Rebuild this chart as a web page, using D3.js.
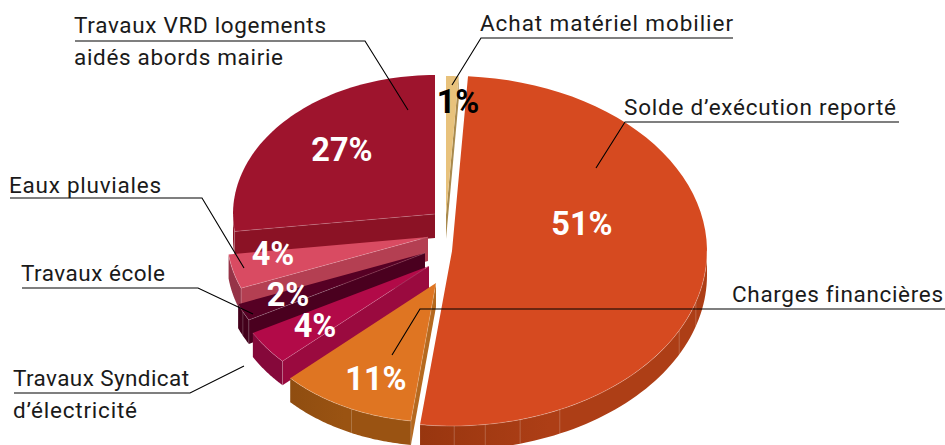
<!DOCTYPE html>
<html>
<head>
<meta charset="utf-8">
<script src="https://cdn.jsdelivr.net/npm/d3@7"></script>
<style>
    html, body { margin: 0; padding: 0; background: #fff; }
    text { font-family: Roboto, sans-serif; font-variant-ligatures: none; }
</style>
</head>
<body>
<div id="chart"></div>
<script>
// values, clockwise from 12 o'clock
var names = ["Achat matériel mobilier", "Solde d’exécution reporté", "Charges financières",
    "Travaux Syndicat d’électricité", "Travaux école", "Eaux pluviales", "Travaux VRD logements aidés abords mairie"];
var shares = [1, 51, 11, 4, 2, 4, 27];

var width = 945, height = 445;

// where each exploded slice sits on the page (same order as names)
var apexX = [446, 452, 436, 429, 425, 428, 435];
var apexY = [215, 251, 283, 266, 253, 237, 214];
var radiusX = [202, 255, 200, 201, 201, 201, 202];
var radiusY = [139, 175, 139, 139, 139, 139, 139];
var depth = 24;

var topColors = ["#e8c27c", "#d64a20", "#df7522", "#b20a48", "#560024", "#d94b62", "#9e142d"];
var cutColors = ["#a98a4e", "#ab3c15", "#b5691f", "#9a0a3f", "#4a001f", "#b43f52", "#8b1225"];
var wallStart = ["#a98a4e", "#98360f", "#8f4d10", "#85083a", "#43001b", "#963347", "#8b1225"];
var wallEnd = ["#a98a4e", "#ad3e16", "#9a5312", "#85083a", "#43001b", "#963347", "#8b1225"];

// thin facet lines on the outer walls, degrees
var facets = [[], [107, 117, 155, 164.5, 172.5, 179.5], [205], [], [245], [], []];

// back to front
var drawOrder = [6, 0, 5, 4, 3, 2, 1];

var percentX = [458, 582, 376, 315, 288, 273, 342];
var percentY = [113, 235, 390, 337, 306, 265, 161];
var percentColor = ["#000", "#fff", "#fff", "#fff", "#fff", "#fff", "#fff"];

// each line carries the width it takes up in the layout
var labels = [
    {lines: ["Travaux VRD logements", "aidés abords mairie"], x: 74, y: [33, 65], w: [252, 209]},
    {lines: ["Achat matériel mobilier"], x: 480, y: [31], w: [253]},
    {lines: ["Solde d’exécution reporté"], x: 624, y: [115], w: [272]},
    {lines: ["Charges financières"], x: 732, y: [302], w: [211]},
    {lines: ["Eaux pluviales"], x: 9, y: [193], w: [152]},
    {lines: ["Travaux école"], x: 21, y: [281], w: [144]},
    {lines: ["Travaux Syndicat", "d’électricité"], x: 13, y: [386, 418], w: [176, 124]}
];

var leaders = [
    [[75, 41], [365, 41], [408, 110]],
    [[733, 38], [481, 38], [452, 85]],
    [[899, 122], [625, 122], [596, 168]],
    [[945, 309], [420, 309], [392, 355]],
    [[10, 198], [202, 198], [244, 268]],
    [[22, 288], [198, 288], [253, 314]],
    [[14, 393], [190, 393], [244, 366]]
];

var svg = d3.select("#chart").append("svg")
    .attr("width", width)
    .attr("height", height)
    .style("display", "block");

var pie = d3.pie().sort(null).value(function(d) { return d; });
var arcs = pie(shares);

var line = d3.line();
var defs = svg.append("defs");

// point on the tilted rim of slice i, a in radians
function rim(i, a, drop) {
    return [apexX[i] + radiusX[i] * Math.sin(a), apexY[i] - radiusY[i] * Math.cos(a) + (drop || 0)];
}

function rimPoints(i, a0, a1, drop) {
    return d3.range(0, 61).map(function(k) {
        return rim(i, a0 + (a1 - a0) * k / 60, drop);
    });
}

function drawSlice(i) {
    var g = svg.append("g");
    var a0 = arcs[i].startAngle, a1 = arcs[i].endAngle;
    var apex = [apexX[i], apexY[i]];
    var apexLow = [apexX[i], apexY[i] + depth];

    // cut faces that look towards the viewer
    if (Math.sin(a0) < 0) {
        g.append("path")
            .attr("d", line([apex, rim(i, a0), rim(i, a0, depth), apexLow]) + "Z")
            .attr("fill", cutColors[i]);
    }
    if (Math.sin(a1) > 0) {
        g.append("path")
            .attr("d", line([apex, rim(i, a1), rim(i, a1, depth), apexLow]) + "Z")
            .attr("fill", cutColors[i]);
    }

    // outer wall: only the front half of the rim shows
    var w0 = Math.max(a0, Math.PI / 2), w1 = Math.min(a1, 3 * Math.PI / 2);
    if (w1 > w0) {
        var gradId = "wall" + i;
        var grad = defs.append("linearGradient").attr("id", gradId);
        grad.append("stop").attr("offset", "0%").attr("stop-color", wallStart[i]);
        grad.append("stop").attr("offset", "45%").attr("stop-color", wallEnd[i]);
        grad.append("stop").attr("offset", "100%").attr("stop-color", wallEnd[i]);

        var pts = rimPoints(i, w0, w1).concat(rimPoints(i, w1, w0, depth));
        g.append("path")
            .attr("d", line(pts) + "Z")
            .attr("fill", "url(#" + gradId + ")");

        facets[i].forEach(function(deg) {
            var a = deg * Math.PI / 180;
            g.append("path")
                .attr("d", line([rim(i, a), rim(i, a, depth)]))
                .attr("stroke", "#fff")
                .attr("stroke-opacity", 0.3)
                .attr("stroke-width", 0.7)
                .attr("fill", "none");
        });
    }

    // top surface
    g.append("path")
        .attr("d", line([apex].concat(rimPoints(i, a0, a1))) + "Z")
        .attr("fill", topColors[i]);

    // pale line where the top meets the walls
    if (w1 > w0) {
        g.append("path")
            .attr("d", line(rimPoints(i, w0, w1)))
            .attr("fill", "none")
            .attr("stroke", "#fff")
            .attr("stroke-opacity", 0.35)
            .attr("stroke-width", 0.7);
    }
    if (Math.sin(a0) < 0) {
        g.append("path")
            .attr("d", line([apex, rim(i, a0), rim(i, a0, depth)]))
            .attr("fill", "none")
            .attr("stroke", "#fff")
            .attr("stroke-opacity", 0.25)
            .attr("stroke-width", 0.7);
    }
}

drawOrder.forEach(drawSlice);

// leader lines
svg.append("g").selectAll("path")
    .data(leaders)
    .enter().append("path")
    .attr("d", function(d) { return line(d); })
    .attr("fill", "none")
    .attr("stroke", "#000")
    .attr("stroke-width", 1.1);

// percentages
svg.append("g").selectAll("text")
    .data(shares)
    .enter().append("text")
    .attr("x", function(d, i) { return percentX[i]; })
    .attr("y", function(d, i) { return percentY[i]; })
    .attr("text-anchor", "middle")
    .attr("font-size", "32.5px")
    .attr("font-weight", "bold")
    .attr("fill", function(d, i) { return percentColor[i]; })
    .text(function(d) { return d + "%"; });

// slice names
labels.forEach(function(l) {
    l.lines.forEach(function(t, k) {
        svg.append("text")
            .attr("x", l.x)
            .attr("y", l.y[k])
            .attr("font-size", "22.5px")
            .attr("textLength", l.w[k])
            .attr("lengthAdjust", "spacing")
            .attr("fill", "#1a1a1a")
            .text(t);
    });
});
</script>
</body>
</html>
